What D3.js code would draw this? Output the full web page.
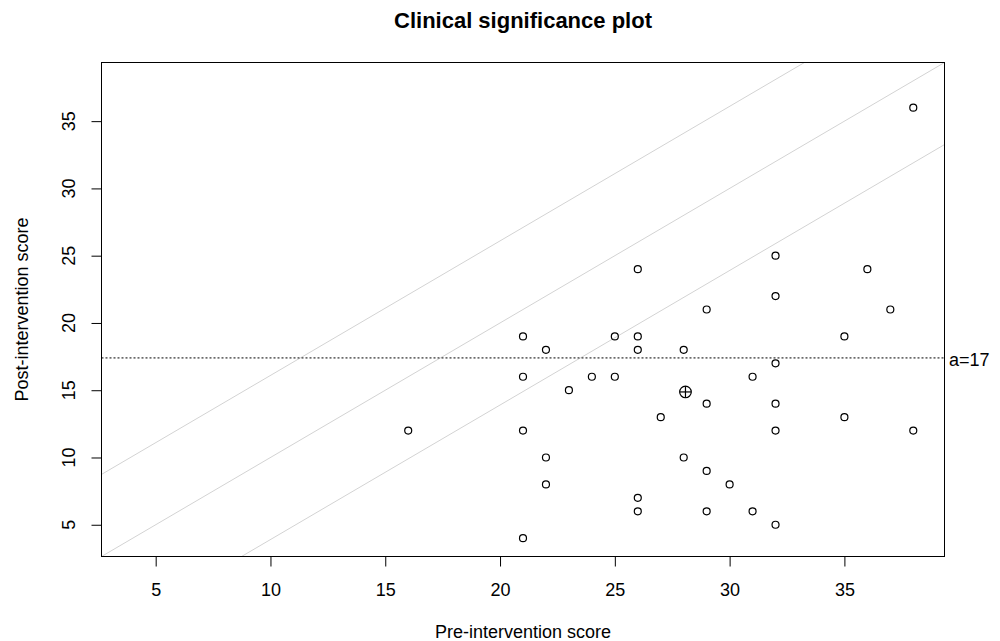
<!DOCTYPE html>
<html>
<head>
<meta charset="utf-8">
<script src="https://cdn.jsdelivr.net/npm/d3@7"></script>
<style>
  html, body { margin: 0; padding: 0; background: #fff; }
  svg { display: block; font-family: "Liberation Sans", Arial, sans-serif; }
</style>
</head>
<body>
<svg id="chart" width="1000" height="641"></svg>
<script>
// ---- data ----
const preScores  = [38, 16, 21, 21, 21, 21, 22, 22, 22, 23, 24, 25, 25, 26, 26, 26, 26, 26, 27, 28, 28,
                    29, 29, 29, 29, 30, 31, 31, 32, 32, 32, 32, 32, 32, 35, 35, 36, 37, 38];
const postScores = [36, 12, 19, 16, 12, 4, 18, 10, 8, 15, 16, 19, 16, 24, 19, 18, 7, 6, 13, 18, 10,
                    21, 14, 9, 6, 8, 16, 6, 25, 22, 17, 14, 12, 5, 19, 13, 24, 21, 12];
const xTicks = [5, 10, 15, 20, 25, 30, 35];
const yTicks = [5, 10, 15, 20, 25, 30, 35];
const bandOffsets = [-6.1, 0, 6.1];   // gray lines: post = pre + offset
const cutoffValue = 17.4;              // dotted horizontal line
const cutoffLabel = "a=17";
const titleText = "Clinical significance plot";
const xLabel = "Pre-intervention score";
const yLabel = "Post-intervention score";

(function () {
// ---- layout ----
const pLeft = 101.5, pRight = 944.5, pTop = 62.5, pBottom = 556.5;
const svg = d3.select("#chart");

const allVals = preScores.concat(postScores);
const [lo, hi] = d3.extent(allVals);
const pad = (hi - lo) * 0.04;
const x = d3.scaleLinear().domain([lo - pad, hi + pad]).range([pLeft, pRight]);
const y = d3.scaleLinear().domain([lo - pad, hi + pad]).range([pBottom, pTop]);

svg.append("defs").append("clipPath").attr("id", "plotclip")
  .append("rect").attr("x", pLeft).attr("y", pTop).attr("width", pRight - pLeft).attr("height", pBottom - pTop);

const plot = svg.append("g").attr("clip-path", "url(#plotclip)");

// diagonal gray lines
const [d0, d1] = x.domain();
plot.selectAll("line.diag").data(bandOffsets).enter().append("line")
  .attr("class", "diag")
  .attr("x1", x(d0)).attr("y1", c => y(d0 + c))
  .attr("x2", x(d1)).attr("y2", c => y(d1 + c))
  .attr("stroke", "#d3d3d3").attr("stroke-width", 1);

// dotted cutoff line
plot.append("line")
  .attr("x1", pLeft).attr("x2", pRight)
  .attr("y1", y(cutoffValue)).attr("y2", y(cutoffValue))
  .attr("stroke", "#000").attr("stroke-width", 1).attr("stroke-dasharray", "2,2");

// points
const pts = preScores.map((p, i) => ({ x: p, y: postScores[i] }));
plot.selectAll("circle.pt").data(pts).enter().append("circle")
  .attr("class", "pt")
  .attr("cx", d => x(d.x)).attr("cy", d => y(d.y)).attr("r", 3.5)
  .attr("fill", "none").attr("stroke", "#000").attr("stroke-width", 1.2);

// mean marker (circle with plus)
const mx = d3.mean(preScores), my = d3.mean(postScores);
const mg = plot.append("g").attr("transform", `translate(${x(mx)},${y(my)})`);
const mr = 5.8;
mg.append("circle").attr("r", mr).attr("fill", "none").attr("stroke", "#000").attr("stroke-width", 1.2);
mg.append("line").attr("x1", -mr).attr("x2", mr).attr("stroke", "#000").attr("stroke-width", 1.2);
mg.append("line").attr("y1", -mr).attr("y2", mr).attr("stroke", "#000").attr("stroke-width", 1.2);

// box
svg.append("rect").attr("x", pLeft).attr("y", pTop).attr("width", pRight - pLeft).attr("height", pBottom - pTop)
  .attr("fill", "none").attr("stroke", "#000").attr("stroke-width", 1);

// x axis
const xAxis = svg.append("g").attr("transform", `translate(0,${pBottom})`)
  .call(d3.axisBottom(x).tickValues(xTicks).tickFormat(d3.format("d")).tickSize(10).tickPadding(17));
xAxis.select(".domain").remove();
xAxis.selectAll("line").attr("stroke", "#000");
xAxis.selectAll("text").attr("font-size", "18px").attr("fill", "#000")
  .attr("font-family", "Liberation Sans, Arial, sans-serif");

// y axis
const yAxis = svg.append("g").attr("transform", `translate(${pLeft},0)`)
  .call(d3.axisLeft(y).tickValues(yTicks).tickSize(10).tickFormat(""));
yAxis.select(".domain").remove();
yAxis.selectAll("line").attr("stroke", "#000");
svg.append("g").selectAll("text").data(yTicks).enter().append("text")
  .attr("transform", d => `translate(75,${y(d)}) rotate(-90)`)
  .attr("text-anchor", "middle").attr("font-size", "18px").attr("fill", "#000")
  .text(d => d);

// cutoff label
svg.append("text").attr("x", 949).attr("y", 366).attr("font-size", "18px").attr("fill", "#000")
  .text(cutoffLabel);

// title & axis labels
svg.append("text").attr("x", (pLeft + pRight) / 2).attr("y", 28).attr("text-anchor", "middle")
  .attr("font-size", "22px").attr("font-weight", "bold").attr("fill", "#000").text(titleText);
svg.append("text").attr("x", (pLeft + pRight) / 2).attr("y", 638).attr("text-anchor", "middle")
  .attr("font-size", "18px").attr("fill", "#000").text(xLabel);
svg.append("text").attr("transform", `translate(28,${(pTop + pBottom) / 2}) rotate(-90)`)
  .attr("text-anchor", "middle").attr("font-size", "18px").attr("fill", "#000").text(yLabel);
})();
</script>
</body>
</html>
